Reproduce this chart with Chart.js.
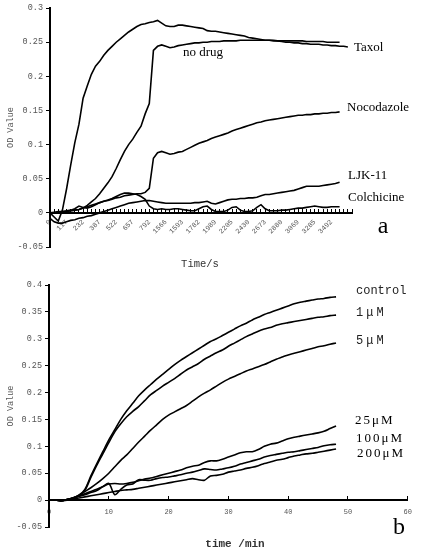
<!DOCTYPE html>
<html><head><meta charset="utf-8">
<script src="https://cdn.jsdelivr.net/npm/chart.js@4.4.1/dist/chart.umd.min.js"></script>
<style>
html,body{margin:0;padding:0;background:#fff;}
#wrap{position:relative;width:425px;height:553px;overflow:hidden;}
#c1{position:absolute;left:0;top:0;}
#c2{position:absolute;left:0;top:275px;}
</style></head><body>
<div id="wrap"><canvas id="c1" width="425" height="275"></canvas><canvas id="c2" width="425" height="278"></canvas></div>
<script>
// ---------- Panel a data ----------
const timeTickLabels = ['0','117','232','387','522','657','792','1566','1593','1782','1989','2205','2430','2673','2880','3069','3285','3492'];
const seriesNamesA = ['Taxol','no drug','Nocodazole','LJK-11','Colchicine'];
const taxol = [0,-0.006,-0.012,0.004,0.035,0.07,0.103,0.13,0.168,0.186,
 0.203,0.215,0.222,0.231,0.238,0.244,0.25,0.255,0.26,0.265,
 0.269,0.273,0.276,0.277,0.279,0.28,0.282,0.278,0.274,0.273,
 0.273,0.275,0.275,0.274,0.273,0.272,0.271,0.27,0.267,0.266,
 0.266,0.265,0.264,0.263,0.262,0.261,0.26,0.259,0.257,0.256,
 0.255,0.254,0.253,0.253,0.252,0.252,0.251,0.25,0.25,0.249,
 0.249,0.248,0.248,0.247,0.247,0.247,0.246,0.246,0.245,0.245,
 0.244,0.244,0.243];
const noDrug = [0,0,0.001,0.002,0.002,0.003,0.004,0.005,0.007,0.011,
 0.016,0.021,0.028,0.036,0.044,0.053,0.065,0.078,0.09,0.1,
 0.108,0.118,0.127,0.145,0.16,0.238,0.244,0.246,0.244,0.242,
 0.243,0.245,0.246,0.247,0.248,0.249,0.249,0.25,0.25,0.251,
 0.251,0.251,0.252,0.252,0.252,0.252,0.253,0.253,0.253,0.253,
 0.253,0.253,0.253,0.253,0.253,0.252,0.252,0.252,0.252,0.252,
 0.252,0.252,0.251,0.251,0.251,0.251,0.251,0.25,0.25,0.25,
 0.25];
const nocodazole = [0,0,0,0.001,0.002,0.003,0.004,0.005,0.007,0.009,
 0.011,0.013,0.015,0.017,0.018,0.02,0.022,0.023,0.025,0.026,
 0.027,0.028,0.028,0.03,0.036,0.08,0.088,0.09,0.088,0.086,
 0.087,0.089,0.09,0.093,0.096,0.099,0.102,0.104,0.106,0.109,
 0.111,0.113,0.115,0.117,0.12,0.122,0.124,0.126,0.128,0.13,
 0.132,0.133,0.135,0.136,0.137,0.138,0.139,0.14,0.141,0.142,
 0.143,0.143,0.144,0.144,0.145,0.145,0.146,0.146,0.147,0.147,
 0.148];
const ljk11 = [-0.008,-0.013,-0.015,-0.015,-0.013,-0.011,-0.01,-0.008,-0.007,-0.005,
 -0.004,-0.002,0,0.002,0.004,0.006,0.008,0.01,0.012,0.014,
 0.015,0.016,0.017,0.018,0.018,0.017,0.016,0.015,0.014,0.014,
 0.014,0.014,0.014,0.014,0.014,0.015,0.015,0.016,0.017,0.014,
 0.013,0.015,0.017,0.019,0.02,0.02,0.021,0.021,0.022,0.022,
 0.023,0.025,0.027,0.027,0.028,0.029,0.03,0.031,0.032,0.033,
 0.035,0.037,0.039,0.039,0.039,0.039,0.04,0.041,0.042,0.043,
 0.045];
const colchicine = [0,0.001,0.002,0.002,0.003,0.004,0.006,0.01,0.008,0.007,
 0.009,0.012,0.015,0.017,0.019,0.021,0.024,0.027,0.029,0.029,
 0.028,0.027,0.024,0.02,0.01,0.006,0.005,0.006,0.005,0.005,
 0.006,0.006,0.005,0.004,0.003,0.003,0.006,0.009,0.01,0.005,
 0.002,0.002,0.002,0.004,0.008,0.009,0.004,0.002,0.002,0.003,
 0.008,0.012,0.006,0.003,0.003,0.003,0.004,0.004,0.005,0.006,
 0.007,0.007,0.008,0.009,0.01,0.009,0.008,0.008,0.009,0.009,
 0.009];

// ---------- Panel b data ----------
const minutes = [1,2,3,4,5,6,7,8,9,10,11,12,13,14,15,16,17,18,19,20,21,22,23,24,25,26,27,28,29,30,31,32,33,34,35,36,37,38,39,40,41,42,43,44,45,46,47,48];
const seriesNamesB = ['control','1μM','5μM','25μM','100μM','200μM'];
const control = [0,-0.001,0.001,0.004,0.009,0.02,0.045,0.068,0.09,0.112,0.131,0.15,0.166,0.18,0.194,0.205,0.215,0.225,0.234,0.243,0.252,0.26,0.267,0.274,0.281,0.288,0.295,0.3,0.306,0.312,0.318,0.324,0.329,0.335,0.34,0.345,0.349,0.353,0.357,0.361,0.365,0.368,0.37,0.372,0.374,0.375,0.377,0.378];
const uM1 = [0,-0.001,0.001,0.003,0.008,0.018,0.042,0.065,0.086,0.107,0.127,0.142,0.155,0.165,0.174,0.185,0.196,0.204,0.212,0.219,0.226,0.234,0.242,0.248,0.254,0.262,0.268,0.274,0.279,0.286,0.292,0.298,0.304,0.309,0.314,0.318,0.321,0.325,0.328,0.33,0.332,0.334,0.336,0.338,0.34,0.341,0.343,0.344];
const uM5 = [0,-0.001,0.001,0.004,0.009,0.016,0.023,0.031,0.04,0.05,0.062,0.074,0.084,0.096,0.108,0.119,0.13,0.14,0.15,0.158,0.164,0.17,0.176,0.184,0.192,0.199,0.205,0.212,0.219,0.225,0.23,0.235,0.24,0.244,0.248,0.252,0.257,0.262,0.266,0.27,0.273,0.276,0.279,0.282,0.285,0.287,0.29,0.292];
const uM25 = [0,-0.001,0.001,0.004,0.008,0.012,0.016,0.02,0.025,0.03,0.031,0.03,0.031,0.033,0.036,0.039,0.041,0.044,0.047,0.05,0.053,0.056,0.06,0.063,0.065,0.07,0.073,0.073,0.076,0.08,0.084,0.088,0.09,0.09,0.094,0.1,0.104,0.106,0.11,0.114,0.117,0.119,0.121,0.123,0.125,0.128,0.133,0.138];
const uM100 = [0,-0.001,0.001,0.004,0.007,0.01,0.014,0.018,0.025,0.031,0.01,0.02,0.028,0.03,0.038,0.037,0.037,0.04,0.042,0.043,0.045,0.047,0.05,0.052,0.055,0.058,0.057,0.056,0.058,0.06,0.063,0.067,0.07,0.073,0.076,0.08,0.083,0.085,0.087,0.089,0.09,0.092,0.094,0.096,0.098,0.101,0.103,0.104];
const uM200 = [0,-0.001,0,0.002,0.004,0.006,0.008,0.01,0.012,0.014,0.016,0.018,0.019,0.02,0.022,0.024,0.026,0.028,0.03,0.032,0.034,0.036,0.038,0.04,0.038,0.037,0.045,0.046,0.048,0.052,0.054,0.056,0.059,0.061,0.064,0.068,0.071,0.074,0.076,0.079,0.082,0.084,0.086,0.087,0.089,0.091,0.093,0.095];

// ---------- build ----------
const TICK_EVERY = 4, N_CAT = 74;
const categories = Array.from({length: N_CAT}, (_, i) => (i % TICK_EVERY === 0 && timeTickLabels[i / TICK_EVERY]) ? timeTickLabels[i / TICK_EVERY] : '');

const MONO = '"Liberation Mono", "DejaVu Sans Mono", monospace';
const SERIF = '"Liberation Serif", "DejaVu Serif", serif';
const GREY = '#555';

const textPlugin = {
  id: 'annot',
  afterDraw(chart, args, opts) {
    const ctx = chart.ctx;
    ctx.save();
    for (const t of (opts.items || [])) {
      ctx.font = t.font;
      ctx.fillStyle = t.color || '#000';
      ctx.textAlign = t.align || 'left';
      ctx.textBaseline = 'middle';
      if ('letterSpacing' in ctx) ctx.letterSpacing = t.spacing || '0px';
      ctx.fillText(t.text, t.x, t.y);
    }
    ctx.restore();
  }
};

function lineDs(data, tension) {
  return {data, borderColor: '#000', borderWidth: 1.6, pointRadius: 0, fill: false, tension: tension || 0};
}
const fmt = v => String(Math.round(v * 100) / 100);

function yAxis(min, max, width) {
  return {
    type: 'linear', position: 'left', min, max,
    ticks: {stepSize: 0.05, callback: fmt, font: {family: MONO, size: 8.5}, color: GREY, padding: 3},
    grid: {drawOnChartArea: false, drawTicks: true, tickLength: 4, tickColor: '#000', tickWidth: 1},
    border: {display: true, color: '#000', width: 2},
    title: {display: true, text: 'OD Value', font: {family: MONO, size: 8.5}, color: GREY, padding: {top: 6, bottom: 0}},
    afterFit: s => { s.width = width; }
  };
}

new Chart(document.getElementById('c1'), {
  type: 'line',
  data: {
    labels: categories,
    datasets: [lineDs(taxol), lineDs(noDrug), lineDs(nocodazole), lineDs(ljk11), lineDs(colchicine)]
  },
  options: {
    responsive: false, animation: false,
    layout: {padding: {top: 6, right: 73, bottom: 28, left: 0}},
    plugins: {
      legend: {display: false}, tooltip: {enabled: false},
      annot: {items: [
        {text: seriesNamesA[1], x: 183, y: 53, font: '13px ' + SERIF},
        {text: seriesNamesA[0], x: 354, y: 48, font: '13px ' + SERIF},
        {text: seriesNamesA[2], x: 347, y: 108, font: '13px ' + SERIF},
        {text: seriesNamesA[3], x: 348, y: 176, font: '13px ' + SERIF},
        {text: seriesNamesA[4], x: 348, y: 198, font: '13px ' + SERIF},
        {text: 'a', x: 383, y: 227, font: '24px ' + SERIF, align: 'center'},
        {text: 'Time/s', x: 200, y: 264, font: '10.5px ' + MONO, color: '#333', align: 'center'}
      ]}
    },
    scales: {
      x: {
        type: 'category', position: {y: 0},
        ticks: {autoSkip: false, minRotation: 45, maxRotation: 45, font: {family: MONO, size: 7}, color: GREY, padding: 10},
        grid: {drawOnChartArea: false, drawTicks: true, tickLength: -5, tickColor: '#000', tickWidth: 1},
        border: {display: true, color: '#000', width: 2}
      },
      y: yAxis(-0.05, 0.3, 50)
    }
  },
  plugins: [textPlugin]
});

new Chart(document.getElementById('c2'), {
  type: 'line',
  data: {
    datasets: [control, uM1, uM5, uM25, uM100, uM200].map(arr => lineDs(arr.map((v, i) => ({x: minutes[i], y: v})), 0.3))
  },
  options: {
    responsive: false, animation: false,
    layout: {padding: {top: 10, right: 8, bottom: 26, left: 0}},
    plugins: {
      legend: {display: false}, tooltip: {enabled: false},
      annot: {items: [
        {text: seriesNamesB[0], x: 356, y: 16, font: '12px ' + MONO, color: '#222'},
        {text: seriesNamesB[1], x: 356, y: 38, font: '12px ' + MONO, color: '#222', spacing: '3px'},
        {text: seriesNamesB[2], x: 356, y: 66, font: '12px ' + MONO, color: '#222', spacing: '3px'},
        {text: seriesNamesB[3], x: 355, y: 146, font: '13px ' + SERIF, spacing: '2px'},
        {text: seriesNamesB[4], x: 356, y: 164, font: '13px ' + SERIF, spacing: '2px'},
        {text: seriesNamesB[5], x: 357, y: 179, font: '13px ' + SERIF, spacing: '2px'},
        {text: 'b', x: 399, y: 253, font: '24px ' + SERIF, align: 'center'},
        {text: 'time /min', x: 235, y: 269, font: 'bold 11px ' + MONO, color: '#333', align: 'center'}
      ]}
    },
    scales: {
      x: {
        type: 'linear', position: {y: 0}, min: 0, max: 60,
        ticks: {stepSize: 10, font: {family: MONO, size: 7}, color: GREY, padding: 13},
        grid: {drawOnChartArea: false, drawTicks: true, tickLength: -5, tickColor: '#000', tickWidth: 1},
        border: {display: true, color: '#000', width: 2}
      },
      y: yAxis(-0.05, 0.4, 49)
    }
  },
  plugins: [textPlugin]
});
</script>
</body></html>
